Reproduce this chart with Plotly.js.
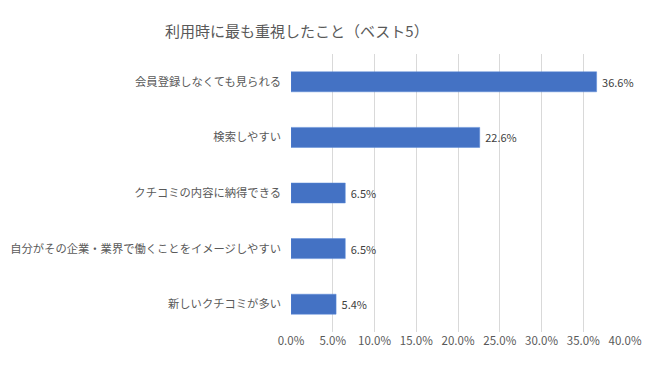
<!DOCTYPE html>
<html>
<head>
<meta charset="utf-8">
<script src="https://cdn.plot.ly/plotly-3.0.1.min.js"></script>
<style>html,body{margin:0;padding:0;background:#fff;}#chart{width:650px;height:371px;}</style>
</head>
<body>
<div id="chart"></div>
<script>
const categories = ["会員登録しなくても見られる", "検索しやすい", "クチコミの内容に納得できる", "自分がその企業・業界で働くことをイメージしやすい", "新しいクチコミが多い"];
const values = [36.6, 22.6, 6.5, 6.5, 5.4];
const tickVals = [0, 5, 10, 15, 20, 25, 30, 35, 40];
const tickText = ["0.0%", "5.0%", "10.0%", "15.0%", "20.0%", "25.0%", "30.0%", "35.0%", "40.0%"];

const font = '"Noto Sans CJK JP", "Noto Sans", sans-serif';
const trace = {
  type: 'bar',
  orientation: 'h',
  y: categories.slice().reverse(),
  x: values.slice().reverse(),
  text: values.slice().reverse().map(v => '\u00a0' + v.toFixed(1) + '%'),
  textposition: 'outside',
  textfont: {family: font, size: 11, color: '#404040'},
  cliponaxis: false,
  marker: {color: '#4472C4', line: {color: '#5B8BD9', width: 0.5}},
  hoverinfo: 'none'
};
const layout = {
  width: 650, height: 371,
  margin: {l: 291, r: 25, t: 54, b: 39},
  paper_bgcolor: '#fff', plot_bgcolor: '#fff',
  title: {text: '利用時に最も重視したこと（ベスト5）', x: 165/650, xanchor: 'left', y: 1 - 32/371, yanchor: 'middle',
          font: {family: font, size: 15, color: '#595959'}},
  bargap: 0.64,
  showlegend: false,
  xaxis: {range: [0, 40], tickvals: tickVals, ticktext: tickText, showgrid: true, gridcolor: '#D9D9D9', gridwidth: 1,
          zeroline: false, showline: false, ticks: '', tickfont: {family: font, size: 11.5, color: '#595959'}, fixedrange: true},
  yaxis: {showgrid: false, zeroline: false, showline: false, ticks: '', ticklabelstandoff: 9,
          tickfont: {family: font, size: 11.3, color: '#595959'}, fixedrange: true}
};
Plotly.newPlot('chart', [trace], layout, {displayModeBar: false, staticPlot: true});
</script>
</body>
</html>
